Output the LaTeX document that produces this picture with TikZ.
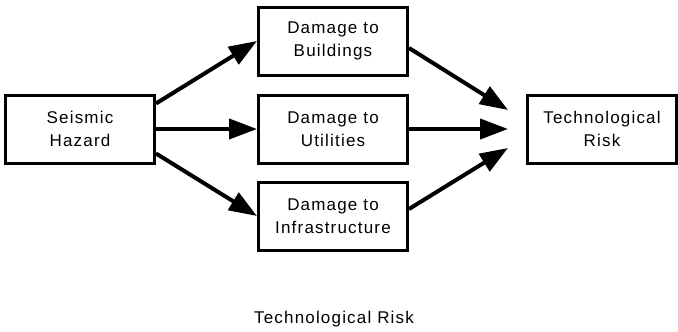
\documentclass[tikz,border=0pt]{standalone}
\usepackage{fontspec}
\setmainfont{Liberation Sans}[LetterSpace=7]
\usetikzlibrary{arrows.meta}

\begin{document}
\begin{tikzpicture}[x=1pt,y=-1pt,
    box/.style={draw,line width=3pt,minimum width=149pt,minimum height=68pt,
      align=center,font=\fontsize{17}{23}\selectfont},
    arr/.style={-{Triangle[length=28pt,width=20pt]},line width=4pt}]
  \useasboundingbox (0,0) rectangle (678,332);
  \node[box] (haz) at (80,129) {Seismic\\Hazard};
  \node[box] (bld) at (333,41) {Damage to\\Buildings};
  \node[box] (utl) at (333,129) {Damage to\\Utilities};
  \node[box] (inf) at (333,216) {Damage to\\Infrastructure};
  \node[box] (risk) at (602,129) {Technological\\Risk};
  \node[font=\fontsize{17}{23}\selectfont] (cap) at (334,319) {Technological Risk};
  % tips stop short of the risk box
  \coordinate (tb) at ([xshift=-18pt,yshift=19pt]risk.west);
  \coordinate (tu) at ([xshift=-18pt]risk.west);
  \coordinate (ti) at ([xshift=-18pt,yshift=-19pt]risk.west);
  \draw[arr] ([yshift=-10pt]haz.north east) -- (bld.west);
  \draw[arr] (haz.east) -- (utl.west);
  \draw[arr] ([yshift=11pt]haz.south east) -- (inf.west);
  \draw[arr] ([yshift=-7pt]bld.east) -- (tb);
  \draw[arr] (utl.east) -- (tu);
  \draw[arr] ([yshift=7pt]inf.east) -- (ti);
\end{tikzpicture}
\end{document}
